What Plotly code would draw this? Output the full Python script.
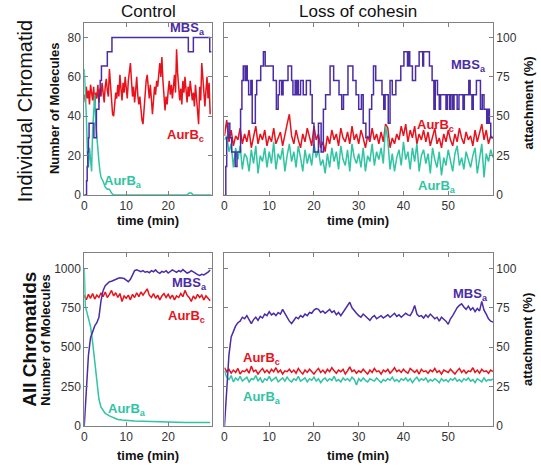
import plotly.graph_objects as go

W, H = 541, 471

# ---------------- data ----------------
# Control, individual chromatid (molecules)
t_ctrl_q = [i * 0.25 for i in range(121)]
aurbc_ctrl_ind = [
    51, 47, 55, 49, 53, 46, 56, 50, 48, 55, 45, 52, 49, 56, 47, 54,
    50, 57, 52, 47, 55, 59, 53, 50, 64, 55, 50, 41, 40, 46, 52, 49,
    56, 50, 61, 54, 48, 57, 52, 60, 55, 49, 58, 63, 67, 58, 50, 55,
    47, 53, 60, 51, 46, 50, 42, 38, 36, 44, 52, 58, 61, 55, 49, 56,
    47, 41, 48, 55, 51, 58, 55, 63, 67, 60, 70, 58, 49, 43, 50, 46,
    53, 58, 51, 56, 49, 55, 61, 52, 74, 62, 55, 48, 54, 46, 58, 52,
    60, 53, 47, 55, 50, 58, 53, 48, 52, 45, 56, 49, 44, 36, 55, 48,
    67, 58, 50, 45, 53, 60, 49, 57, 41]
t_aurba_ctrl_ind = [0, 0.25, 0.5, 0.75, 1, 1.25, 1.5, 1.75, 2, 2.25, 2.5, 2.75, 3, 3.25,
                    3.5, 3.75, 4, 4.5, 5, 5.5, 6, 6.5, 7, 8, 10, 15, 20, 24.5, 25, 25.5, 26, 30.3]
aurba_ctrl_ind = [64, 55, 40, 22, 14, 24, 18, 12, 33, 46, 51, 36, 28, 22,
                  17, 12, 9, 7, 4, 3, 3, 1, 0, 0, 0, 0, 0, 0, 1, 1, 0, 0]
t_mbsa_ctrl_ind = [0, 0.55, 0.7, 0.85, 1.0, 1.15, 2.3, 2.9, 3.5, 3.8, 4.1, 5.5, 6.6,
                   24.8, 26.0, 29.9, 30.3]
mbsa_ctrl_ind = [0, 7.3, 14.5, 21.8, 29.1, 36.4, 29.1, 43.6, 50.9, 58.2, 65.5, 72.7, 80,
                 72.7, 80, 72.7, 72.7]

# Loss of cohesin, individual chromatid (molecules)
t_loss_h = [i * 0.5 for i in range(121)]
aurbc_loss_ind = [
    30, 38, 27, 33, 25, 30, 28, 34, 26, 31,
    27, 33, 24, 29, 35, 26, 31, 28, 33, 25,
    30, 27, 34, 26, 29, 32, 25, 31, 36, 41,
    30, 26, 33, 28, 24, 31, 27, 34, 29, 25,
    35, 28, 31, 24, 27, 22, 30, 26, 33, 28,
    31, 25, 34, 29, 27, 32, 26, 35, 28, 31,
    26, 33, 29, 24, 30, 27, 34, 28, 31, 26,
    32, 27, 36, 34, 24, 29, 26, 31, 28, 35,
    30, 36, 27, 33, 29, 35, 26, 31, 28, 33,
    27, 32, 25, 30, 34, 26, 29, 24, 31, 27,
    33, 28, 25, 31, 27, 34, 29, 26, 32, 28,
    30, 25, 33, 27, 31, 36, 28, 33, 26, 30, 29]
aurba_loss_ind = [
    28, 30, 22, 26, 14, 24, 18, 25, 13, 21,
    19, 12, 23, 16, 25, 11, 20, 17, 24, 14,
    22, 16, 27, 13, 21, 18, 24, 12, 20, 26,
    17, 22, 14, 25, 19, 12, 23, 16, 21, 15,
    26, 19, 23, 15, 18, 11, 21, 14, 24, 17,
    22, 13, 25, 18, 15, 23, 12, 26, 19, 16,
    21, 14, 24, 12, 20, 17, 26, 15, 22, 18,
    24, 16, 35, 28, 13, 21, 12, 19, 23, 15,
    27, 18, 22, 13, 24, 17, 26, 12, 20, 23,
    16, 21, 11, 24, 18, 14, 22, 10, 19, 15,
    23, 17, 12, 21, 25, 15, 19, 13, 22, 18,
    14, 20, 24, 11, 18, 26, 9, 21, 17, 23, 19]
t_mbsa_loss_ind = [
    0, 0.3, 0.5, 0.8, 1.2, 1.6, 2.4, 2.8, 3.6, 3.9, 4.2, 4.6, 4.8, 5.1, 5.4, 5.9,
    6.2, 6.9, 7.2, 8.1, 8.7, 9.1, 10.9, 11.6, 12.0, 12.3, 12.8, 13.1, 14.2, 15.0,
    15.3, 15.8, 16.0, 16.3, 16.5, 17.0, 17.6, 18.3, 19.2, 19.6, 20.0, 21.0, 21.6,
    22.1, 22.6, 23.6, 24.4, 25.6, 26.2, 26.6, 27.6, 28.7, 29.4, 30.0, 30.6, 31.0,
    31.6, 32.4, 32.9, 33.3, 33.8, 35.2, 35.6, 35.9, 36.6, 37.0, 37.5, 38.3, 39.4,
    40.1, 40.9, 41.2, 41.4, 42.0, 42.7, 43.5, 44.3, 44.5, 45.8, 46.4, 46.8, 47.1,
    47.6, 48.0, 48.3, 49.5, 49.8, 50.3, 50.6, 51.0, 51.3, 52.0, 52.4, 53.3, 53.6,
    54.6, 54.9, 55.3, 55.6, 56.3, 57.2, 57.6, 58.0, 58.6, 58.9, 59.2, 59.5, 60.0]
mbsa_loss_ind = [
    0, 14.5, 29.1, 36.4, 29.1, 21.8, 14.5, 21.8, 43.6, 58.2, 65.5, 58.2, 65.5, 58.2, 50.9, 58.2,
    36.4, 50.9, 58.2, 65.5, 72.7, 65.5, 58.2, 43.6, 50.9, 58.2, 50.9, 58.2, 65.5, 58.2,
    50.9, 58.2, 50.9, 58.2, 50.9, 58.2, 50.9, 58.2, 50.9, 36.4, 21.8, 36.4, 21.8,
    43.6, 50.9, 65.5, 58.2, 50.9, 43.6, 50.9, 65.5, 58.2, 50.9, 43.6, 50.9, 36.4,
    29.1, 43.6, 50.9, 65.5, 58.2, 50.9, 43.6, 50.9, 36.4, 58.2, 50.9, 58.2, 65.5,
    72.7, 65.5, 72.7, 65.5, 58.2, 65.5, 72.7, 65.5, 72.7, 65.5, 58.2, 43.6, 58.2,
    50.9, 43.6, 50.9, 43.6, 50.9, 43.6, 50.9, 43.6, 50.9, 43.6, 50.9, 43.6, 50.9,
    58.2, 50.9, 43.6, 50.9, 58.2, 43.6, 50.9, 43.6, 36.4, 43.6, 36.4, 29.1, 29.1]

# Control, all chromatids (molecules)
t_ctrl_h = [i * 0.5 for i in range(61)]
mbsa_ctrl_all = [
    0, 260, 450, 560, 605, 635, 655, 690, 795, 860, 890, 905, 915, 918, 925, 930,
    935, 940, 938, 935, 925, 915, 930, 960, 985, 990, 982, 978, 985, 975, 980,
    972, 985, 978, 990, 975, 968, 980, 975, 985, 970, 978, 990, 982, 975, 985,
    978, 992, 980, 970, 975, 985, 978, 968, 960, 955, 962, 958, 965, 975, 990]
aurbc_ctrl_all = [
    830, 800, 835, 810, 840, 805, 830, 815, 845, 820, 850, 815, 835, 860, 825, 845,
    815, 840, 790, 825, 810, 830, 800, 835, 815, 845, 820, 850, 830, 855, 870,
    830, 815, 840, 810, 830, 800, 825, 840, 815, 835, 810, 830, 800, 825, 815,
    840, 820, 860, 830, 815, 790, 825, 805, 835, 815, 830, 800, 825, 810, 795]
t_aurba_ctrl_all = [0, 0.25, 0.5, 1, 1.5, 2, 2.5, 3, 3.5, 4, 4.5, 5, 6, 7, 8, 9, 10,
                    12, 14, 16, 18, 20, 22, 24, 26, 28, 30]
aurba_ctrl_all = [1000, 760, 735, 690, 630, 530, 410, 280, 170, 120, 95, 80, 65, 52, 42,
                  38, 35, 32, 30, 28, 27, 25, 24, 23, 23, 22, 22]

# Loss of cohesin, all chromatids (molecules)
mbsa_loss_all = [
    0, 260, 450, 565, 605, 635, 655, 665, 690, 680, 700, 670, 650, 675, 690, 670,
    695, 685, 710, 700, 725, 705, 715, 700, 720, 710, 740, 715, 690, 665, 650,
    670, 690, 680, 700, 690, 710, 700, 720, 715, 735, 745, 740, 720, 730, 715,
    725, 740, 720, 730, 705, 720, 700, 720, 740, 760, 785, 750, 730, 715, 700,
    690, 710, 695, 680, 670, 690, 700, 680, 690, 700, 685, 695, 705, 690, 700,
    715, 695, 705, 690, 700, 715, 705, 700, 725, 765, 710, 695, 700, 685, 705,
    690, 710, 695, 680, 690, 665, 690, 680, 665, 645, 680, 700, 730, 750, 765,
    775, 755, 740, 760, 735, 750, 725, 745, 730, 790, 735, 710, 680, 665, 660]
aurbc_loss_all = [
    370, 345, 360, 335, 355, 340, 365, 330, 350, 345,
    360, 335, 380, 345, 355, 330, 350, 365, 340, 355,
    335, 360, 345, 370, 340, 355, 330, 350, 345, 360,
    340, 355, 335, 365, 345, 330, 355, 340, 360, 345,
    330, 350, 365, 340, 355, 335, 360, 345, 370, 350,
    335, 355, 345, 360, 330, 350, 375, 345, 355, 335,
    350, 340, 360, 345, 330, 355, 340, 365, 345, 350,
    330, 355, 345, 360, 335, 350, 370, 345, 355, 340,
    360, 345, 335, 365, 350, 340, 355, 330, 360, 345,
    350, 335, 355, 345, 365, 340, 350, 330, 355, 345,
    340, 360, 345, 330, 350, 365, 340, 355, 335, 350,
    345, 370, 340, 355, 335, 360, 345, 350, 335, 355, 345]
aurba_loss_all = [
    350, 310, 295, 320, 280, 305, 290, 315, 285, 300,
    310, 280, 300, 295, 320, 285, 305, 275, 300, 290,
    315, 285, 300, 310, 280, 295, 305, 285, 310, 290,
    280, 300, 290, 315, 285, 295, 305, 280, 300, 290,
    310, 285, 300, 275, 295, 305, 285, 300, 290, 315,
    285, 295, 280, 305, 290, 300, 285, 310, 295, 260,
    300, 285, 305, 290, 280, 300, 295, 285, 305, 290,
    275, 295, 285, 300, 290, 310, 285, 295, 280, 300,
    290, 305, 285, 300, 275, 295, 310, 285, 300, 290,
    305, 280, 295, 285, 300, 290, 275, 300, 285, 295,
    280, 300, 290, 305, 285, 295, 280, 300, 290, 305,
    285, 295, 275, 300, 290, 280, 305, 285, 295, 290, 300]

ctrl_xticks = [0, 10, 20]
loss_xticks = [0, 10, 20, 30, 40, 50]
ind_yticks = [0, 20, 40, 60, 80]
all_yticks = [0, 250, 500, 750, 1000]
att_ticks = [0, 25, 50, 75, 100]

# ---------------- style ----------------
PURPLE = "#4a2ca6"
RED = "#e8121c"
TEAL = "#2fc4a2"
AX = "#808080"
FONT = "Liberation Sans, Arial, sans-serif"


def px(x):
    return x / W


def py(y):
    return 1 - y / H


fig = go.Figure()


def add(t, v, color, xa, ya, shape="linear"):
    fig.add_trace(go.Scatter(x=t, y=v, mode="lines", xaxis=xa, yaxis=ya,
                             line=dict(color=color, width=1.5, shape=shape),
                             showlegend=False, hoverinfo="skip"))


# top-left
add(t_ctrl_q, aurbc_ctrl_ind, RED, "x", "y")
add(t_aurba_ctrl_ind, aurba_ctrl_ind, TEAL, "x", "y")
add(t_mbsa_ctrl_ind, mbsa_ctrl_ind, PURPLE, "x", "y", "hv")
# top-right
add(t_loss_h, aurbc_loss_ind, RED, "x2", "y2")
add(t_loss_h, aurba_loss_ind, TEAL, "x2", "y2")
add(t_mbsa_loss_ind, mbsa_loss_ind, PURPLE, "x2", "y2", "hv")
# bottom-left
add(t_ctrl_h, aurbc_ctrl_all, RED, "x3", "y4")
add(t_aurba_ctrl_all, aurba_ctrl_all, TEAL, "x3", "y4")
add(t_ctrl_h, mbsa_ctrl_all, PURPLE, "x3", "y4")
# bottom-right
add(t_loss_h, aurbc_loss_all, RED, "x4", "y5")
add(t_loss_h, aurba_loss_all, TEAL, "x4", "y5")
add(t_loss_h, mbsa_loss_all, PURPLE, "x4", "y5")

# empty carriers so the right-hand attachment axes are drawn
for xa, ya in (("x2", "y3"), ("x4", "y6")):
    fig.add_trace(go.Scatter(x=[None], y=[None], mode="lines", xaxis=xa, yaxis=ya,
                             showlegend=False, hoverinfo="skip"))

L_dom = [px(81.7), px(210)]
R_dom = [px(222.7), px(492.7)]
T_dom = [py(198), py(23)]
B_dom = [py(432.5), py(257.3)]

tickfont = dict(family=FONT, size=12, color="#333333")
base = dict(showgrid=False, zeroline=False, showline=True, linecolor=AX, linewidth=1,
            ticks="inside", ticklen=4, tickcolor=AX, tickfont=tickfont)

IND_MAX = 87.5
ALL_MAX = 1094
ATT_MAX = 109.4

fig.update_layout(
    width=W, height=H, margin=dict(l=0, r=0, t=0, b=0),
    paper_bgcolor="white", plot_bgcolor="white",
    xaxis=dict(base, domain=L_dom, anchor="y", range=[0, 30.4], tickvals=ctrl_xticks, mirror="ticks"),
    yaxis=dict(base, domain=T_dom, anchor="x", range=[0, IND_MAX], tickvals=ind_yticks, mirror="ticks"),
    xaxis2=dict(base, domain=R_dom, anchor="y2", range=[0, 60], tickvals=loss_xticks, mirror="ticks"),
    yaxis2=dict(base, domain=T_dom, anchor="x2", range=[0, IND_MAX], tickvals=ind_yticks,
                showticklabels=False),
    yaxis3=dict(base, domain=T_dom, anchor="x2", overlaying="y2", side="right",
                range=[0, ATT_MAX], tickvals=att_ticks),
    xaxis3=dict(base, domain=L_dom, anchor="y4", range=[0, 30.4], tickvals=ctrl_xticks, mirror="ticks"),
    yaxis4=dict(base, domain=B_dom, anchor="x3", range=[0, ALL_MAX], tickvals=all_yticks, mirror="ticks"),
    xaxis4=dict(base, domain=R_dom, anchor="y5", range=[0, 60], tickvals=loss_xticks, mirror="ticks"),
    yaxis5=dict(base, domain=B_dom, anchor="x4", range=[0, ALL_MAX], tickvals=all_yticks,
                showticklabels=False),
    yaxis6=dict(base, domain=B_dom, anchor="x4", overlaying="y5", side="right",
                range=[0, ATT_MAX], tickvals=att_ticks),
)

ann = []


def text(x, y, s, size, color="#111111", angle=0, bold=False):
    if bold:
        s = "<b>" + s + "</b>"
    ann.append(dict(x=px(x), y=py(y), xref="paper", yref="paper", text=s, showarrow=False,
                    textangle=angle, xanchor="center", yanchor="middle",
                    font=dict(family=FONT, size=size, color=color)))


text(146, 12, "Control", 17)
text(357, 12, "Loss of cohesin", 17)
text(22, 113, "Individual Chromatid", 20, angle=-90)
text(52, 110, "Number of Molecules", 13, angle=-90, bold=True)
text(27, 344, "All Chromatids", 19, angle=-90, bold=True)
text(43, 345, "Number of Molecules", 13, angle=-90, bold=True)
text(528, 105, "attachment (%)", 13, angle=-90, bold=True)
text(528, 345, "attachment (%)", 13, angle=-90, bold=True)
for xc in (146, 357):
    text(xc, 224, "time (min)", 13, bold=True)
    text(xc, 462, "time (min)", 13, bold=True)

MB = "MBS<sub>a</sub>"
AC = "AurB<sub>c</sub>"
AA = "AurB<sub>a</sub>"
text(186, 29, MB, 13, PURPLE, bold=True)
text(184, 138, AC, 13, RED, bold=True)
text(121, 184, AA, 13, TEAL, bold=True)
text(468, 66, MB, 13, PURPLE, bold=True)
text(435, 127, AC, 13, RED, bold=True)
text(436, 189, AA, 13, TEAL, bold=True)
text(188, 288, MB, 13, PURPLE, bold=True)
text(185, 321, AC, 13, RED, bold=True)
text(125, 416, AA, 13, TEAL, bold=True)
text(470, 299, MB, 13, PURPLE, bold=True)
text(260, 364, AC, 13, RED, bold=True)
text(260, 403, AA, 13, TEAL, bold=True)

fig.update_layout(annotations=ann)
fig.write_html("out.html")
